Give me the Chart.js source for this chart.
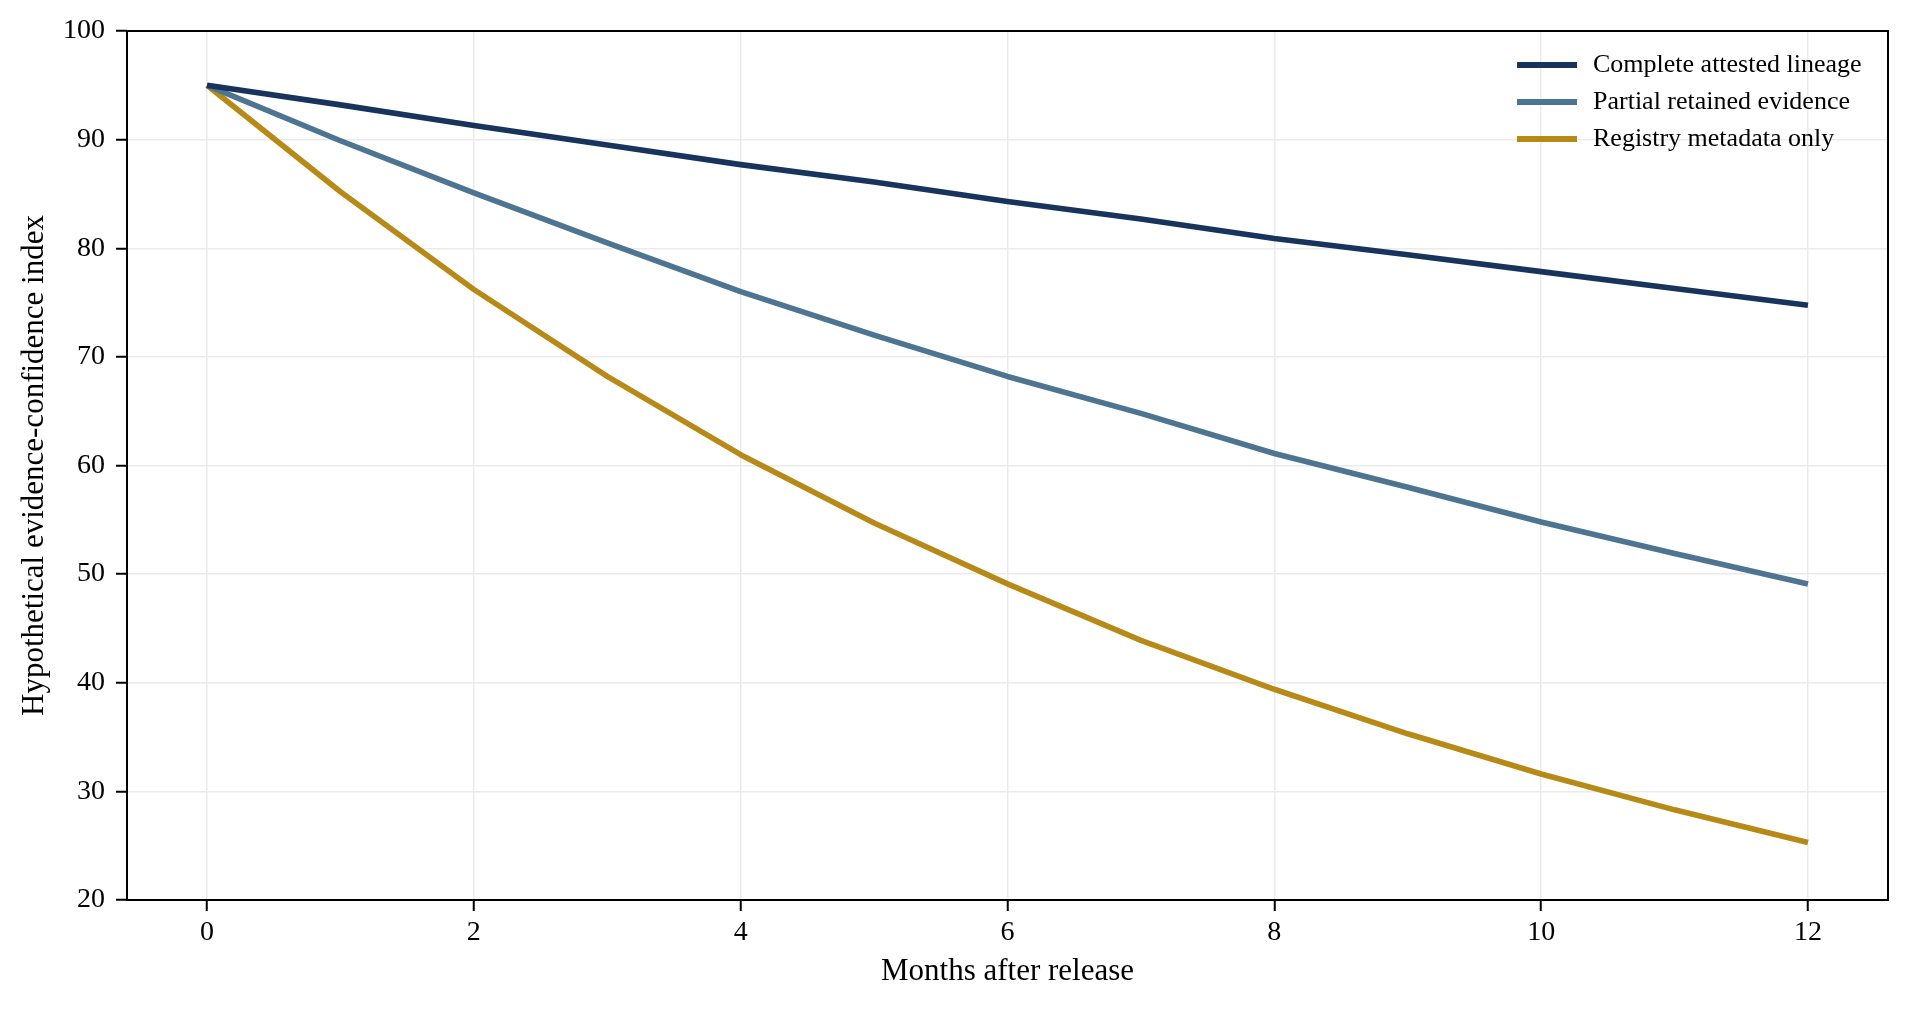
<!DOCTYPE html>
<html>
<head>
<meta charset="utf-8">
<script src="https://cdn.jsdelivr.net/npm/chart.js@4.4.1/dist/chart.umd.min.js"></script>
<style>
  html, body { margin: 0; padding: 0; background: #ffffff; }
  #wrap { width: 1910px; height: 1010px; position: relative; }
</style>
</head>
<body>
<div id="wrap"><canvas id="c" width="1910" height="1010"></canvas></div>
<script>
const months = [0, 1, 2, 3, 4, 5, 6, 7, 8, 9, 10, 11, 12];
const completeLineage = [95, 93.2, 91.3, 89.5, 87.7, 86.1, 84.3, 82.7, 80.9, 79.4, 77.85, 76.3, 74.75];
const partialEvidence = [95, 89.9, 85.1, 80.5, 76.0, 72.0, 68.2, 64.8, 61.1, 58.0, 54.8, 51.9, 49.1];
const registryOnly = [95, 85.2, 76.2, 68.2, 61.0, 54.7, 49.1, 43.9, 39.4, 35.3, 31.6, 28.3, 25.3];
const seriesNames = ["Complete attested lineage", "Partial retained evidence", "Registry metadata only"];
const xTickValues = [0, 2, 4, 6, 8, 10, 12];
const xTitle = "Months after release";
const yTitle = "Hypothetical evidence-confidence index";

const FONT = "'Liberation Serif', 'Times New Roman', serif";
const colors = ["#18335c", "#4d7491", "#b78a17"];

function toPoints(arr) { return months.map((m, i) => ({ x: m, y: arr[i] })); }

const frameAndLegend = {
  id: 'frameAndLegend',
  afterDatasetsDraw(chart) {
    const { ctx, chartArea: a } = chart;
    ctx.save();
    ctx.strokeStyle = '#000';
    ctx.lineWidth = 2;
    ctx.strokeRect(a.left, a.top, a.right - a.left, a.bottom - a.top);
    ctx.restore();
  },
  afterDraw(chart) {
    const { ctx, chartArea: a } = chart;
    ctx.save();
    ctx.font = "26px " + FONT;
    ctx.textBaseline = 'middle';
    ctx.textAlign = 'left';
    chart.data.datasets.forEach((ds, i) => {
      const y = a.top + 34 + i * 37;
      ctx.strokeStyle = ds.borderColor;
      ctx.lineWidth = 6;
      ctx.beginPath();
      ctx.moveTo(a.right - 371, y);
      ctx.lineTo(a.right - 311, y);
      ctx.stroke();
      ctx.fillStyle = '#000';
      ctx.fillText(ds.label, a.right - 295, y);
    });
    ctx.restore();
  }
};

new Chart(document.getElementById('c'), {
  type: 'line',
  data: {
    datasets: [
      { label: seriesNames[0], data: toPoints(completeLineage), borderColor: colors[0] },
      { label: seriesNames[1], data: toPoints(partialEvidence), borderColor: colors[1] },
      { label: seriesNames[2], data: toPoints(registryOnly), borderColor: colors[2] }
    ]
  },
  options: {
    responsive: false,
    devicePixelRatio: 1,
    animation: false,
    layout: { padding: { top: 31, right: 22, left: 0, bottom: 0 } },
    elements: {
      line: { borderWidth: 5.6, tension: 0, borderCapStyle: 'butt', borderJoinStyle: 'round', fill: false },
      point: { radius: 0, hoverRadius: 0 }
    },
    plugins: { legend: { display: false }, tooltip: { enabled: false } },
    scales: {
      x: {
        type: 'linear',
        min: -0.6,
        max: 12.6,
        afterBuildTicks: s => { s.ticks = xTickValues.map(v => ({ value: v })); },
        afterFit: s => { s.height = 110; },
        grid: { color: '#ebebeb', lineWidth: 1.5, tickColor: '#000', tickLength: 11, tickWidth: 2, drawOnChartArea: true },
        border: { display: false },
        ticks: { color: '#000', font: { family: FONT, size: 28 }, padding: 5, maxRotation: 0, autoSkip: false },
        title: { display: true, text: xTitle, color: '#000', font: { family: FONT, size: 31 }, padding: { top: 0, bottom: 20 } }
      },
      y: {
        type: 'linear',
        min: 20,
        max: 100,
        ticks: { stepSize: 10, color: '#000', font: { family: FONT, size: 28 }, padding: 11 },
        afterFit: s => { s.width = 127; },
        grid: { color: '#ebebeb', lineWidth: 1.5, tickColor: '#000', tickLength: 11, tickWidth: 2 },
        border: { display: false },
        title: { display: true, text: yTitle, color: '#000', font: { family: FONT, size: 31 }, padding: { top: 16.5, bottom: 0 } }
      }
    }
  },
  plugins: [frameAndLegend]
});
</script>
</body>
</html>
